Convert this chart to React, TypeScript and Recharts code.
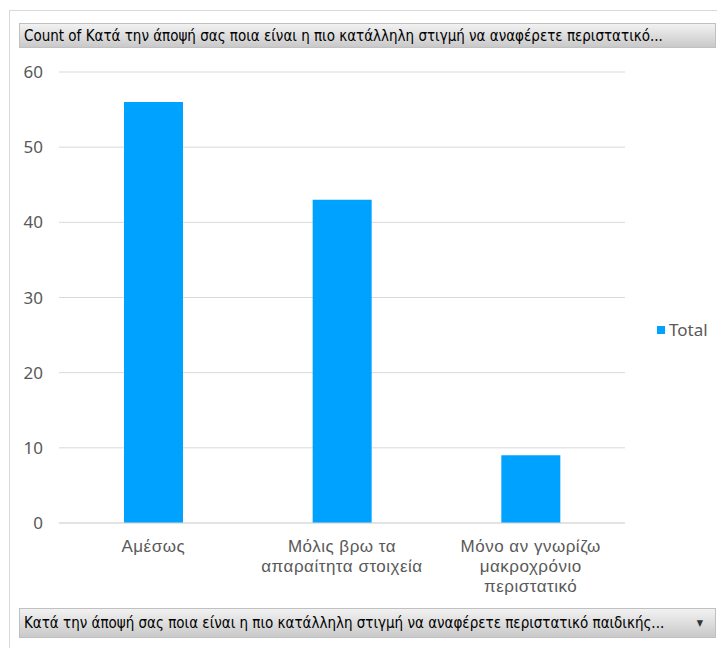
import React from "react";
import { Bar, BarChart, CartesianGrid, XAxis, YAxis } from "recharts";

const categories = ["Αμέσως", "Μόλις βρω τα απαραίτητα στοιχεία", "Μόνο αν γνωρίζω μακροχρόνιο περιστατικό"];
const tickLines = [
  ["Αμέσως"],
  ["Μόλις βρω τα", "απαραίτητα στοιχεία"],
  ["Μόνο αν γνωρίζω", "μακροχρόνιο", "περιστατικό"],
];
const totals = [56, 43, 9];
const yTicks = [0, 10, 20, 30, 40, 50, 60];

const titleText = "Count of Κατά την άποψή σας ποια είναι η πιο κατάλληλη στιγμή να αναφέρετε περιστατικό...";
const filterText = "Κατά την άποψή σας ποια είναι η πιο κατάλληλη στιγμή να αναφέρετε περιστατικό παιδικής...";

const data = categories.map((name, i) => ({ name, Total: totals[i] }));

const FONT = "'Noto Sans', 'Liberation Sans', sans-serif";
const TICKFONT = "'Liberation Sans', Arial, sans-serif";
const NARROW = "'Liberation Sans Narrow', 'DejaVu Sans Condensed', sans-serif";
const BLUE = "#00a2ff";

// multi-line category labels, one <text> per line
function CatTick(props: any) {
  const { x, y, payload } = props;
  const lines = tickLines[payload.index] || [payload.value];
  return (
    <g>
      {lines.map((l: string, i: number) => (
        <text
          key={i}
          x={x}
          y={y + 21 + i * 20}
          textAnchor="middle"
          fill="#595959"
          fontSize={17}
          letterSpacing={0.5}
          fontFamily={TICKFONT}
        >
          {l}
        </text>
      ))}
    </g>
  );
}

const barStyle: React.CSSProperties = {
  position: "absolute",
  left: 19,
  right: 1,
  background: "linear-gradient(#f2f2f2, #c9c9c9)",
  border: "1px solid #c0c0c0",
  boxSizing: "border-box",
  fontFamily: NARROW,
  fontSize: 15,
  color: "#000",
  paddingLeft: 4,
  display: "flex",
  alignItems: "center",
  whiteSpace: "nowrap",
  overflow: "hidden",
};

export default function App() {
  return (
    <div style={{ position: "absolute", left: 0, top: 0, width: 717, height: 648, background: "#fff", overflow: "hidden" }}>
      <div
        style={{
          position: "absolute",
          left: 9,
          top: 10,
          width: 720,
          height: 660,
          borderLeft: "1px solid #d9d9d9",
          borderTop: "1px solid #d9d9d9",
        }}
      />
      <div style={{ position: "absolute", left: 0, top: 0 }}>
        <BarChart width={717} height={648} data={data} margin={{ top: 72, right: 92, bottom: 45, left: 0 }} barSize={59}>
          <CartesianGrid vertical={false} stroke="#d9d9d9" />
          <XAxis
            dataKey="name"
            tick={<CatTick />}
            tickLine={false}
            axisLine={{ stroke: "#d9d9d9" }}
            interval={0}
            height={80}
          />
          <YAxis
            width={59}
            domain={[0, 60]}
            ticks={yTicks}
            tickLine={false}
            axisLine={false}
            tickSize={0}
            tickMargin={16}
            tick={{ fill: "#595959", fontSize: 17, fontFamily: FONT }}
          />
          <Bar dataKey="Total" fill={BLUE} isAnimationActive={false} />
        </BarChart>
      </div>
      <div
        style={{
          position: "absolute",
          left: 657,
          top: 318,
          display: "flex",
          alignItems: "center",
          fontFamily: FONT,
          fontSize: 17,
          color: "#595959",
        }}
      >
        <span style={{ width: 8, height: 8, background: BLUE, marginRight: 4, display: "inline-block" }} />
        <span>Total</span>
      </div>
      <div style={{ ...barStyle, top: 23, height: 25 }}>{titleText}</div>
      <div style={{ ...barStyle, top: 608, height: 30 }}>
        <span style={{ flex: 1 }}>{filterText}</span>
        <span style={{ fontSize: 9, color: "#333", marginRight: 12 }}>▼</span>
      </div>
    </div>
  );
}
